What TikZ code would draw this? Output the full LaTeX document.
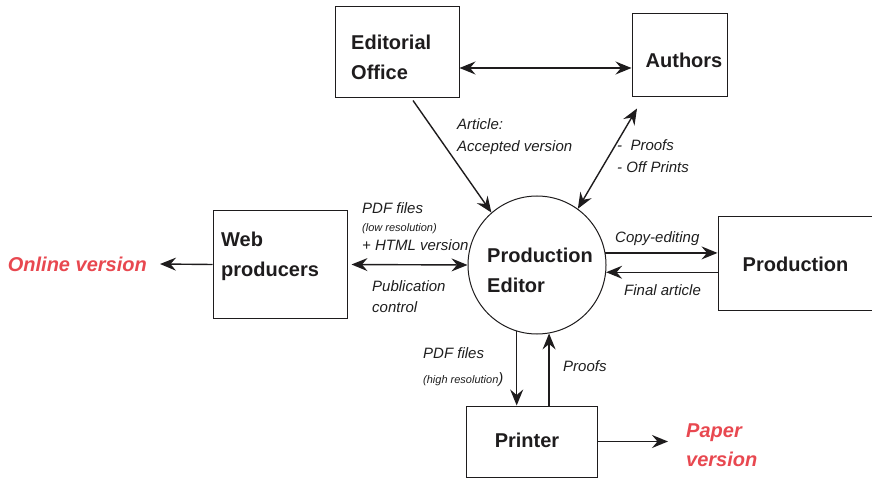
\documentclass[tikz,border=0pt]{standalone}
\usepackage{fontspec}
\setmainfont{Liberation Sans}
\usetikzlibrary{arrows.meta,calc}
\definecolor{ink}{RGB}{30,28,29}
\definecolor{lab}{RGB}{30,30,30}
\definecolor{pubred}{RGB}{232,72,80}
\begin{document}
\begin{tikzpicture}[x=1pt,y=-1pt,
  box/.style={draw=ink,line width=1pt,rectangle,inner sep=0pt},
  boxcap/.style={font=\fontsize{20}{30}\selectfont\bfseries,text=ink,align=left,inner sep=0pt},
  lbl/.style={font=\fontsize{15}{22}\selectfont\itshape,text=lab,align=left,inner sep=0pt},
  outtxt/.style={font=\fontsize{20}{29}\selectfont\bfseries\itshape,text=pubred,align=left,inner sep=0pt},
  arr/.style={draw=ink,line width=1.4pt,-{Stealth[length=16pt,width=13pt,inset=5.5pt]}},
  darr/.style={draw=ink,line width=1.4pt,{Stealth[length=16pt,width=13pt,inset=5.5pt]}-{Stealth[length=16pt,width=13pt,inset=5.5pt]}}]
\useasboundingbox (0,0) rectangle (872,478);

% boxes
\node[box,minimum width=124pt,minimum height=91pt] (eo) at (397,52.5) {};
\node[box,minimum width=95pt,minimum height=83pt] (au) at (679.5,55.5) {};
\node[box,minimum width=134pt,minimum height=107pt] (web) at (280,264.5) {};
\node[box,minimum width=157pt,minimum height=93pt] (prod) at (796.5,263.5) {};
\node[box,minimum width=131pt,minimum height=71pt] (pr) at (531.5,441.5) {};
\node[box,circle,minimum size=138pt] (pe) at (537,265) {};

% captions
\node[boxcap,anchor=west] (eot) at (351,57) {Editorial\\Office};
\node[boxcap] (aut) at (684,60) {Authors};
\node[boxcap,anchor=west] (webt) at (221,256) {Web\\producers};
\node[boxcap] (prodt) at (795.5,264) {Production};
\node[boxcap] (prt) at (527,440) {Printer};
\node[boxcap,anchor=west] (pet) at (487,270) {Production\\Editor};

% labels
\node[lbl,anchor=west] (l1) at (457,137) {Article:\\Accepted version};
\node[lbl,anchor=west] (l2) at (617,156) {-\ \ Proofs\\- Off Prints};
\node[lbl,anchor=west,font=\fontsize{15}{18.5}\selectfont\itshape] (l3) at (362,226.5) {PDF files\\{\fontsize{11}{12}\selectfont(low resolution)}\\+ HTML version};
\node[lbl,anchor=west,font=\fontsize{15}{21}\selectfont\itshape] (l4) at (372,296.5) {Publication\\control};
\node[lbl,anchor=west] (l5) at (615,239) {Copy-editing};
\node[lbl,anchor=west] (l6) at (624,290) {Final article};
\node[lbl,anchor=west,font=\fontsize{15}{25}\selectfont\itshape] (l7) at (423,367.5) {PDF files\\{\fontsize{11}{12}\selectfont(high resolution})};
\node[lbl,anchor=west] (l8) at (563,366) {Proofs};
\node[outtxt,anchor=east] (online) at (147,264) {Online version};
\node[outtxt,anchor=west] (paper) at (686,445.5) {Paper\\version};

% connectors
\draw[darr] ([yshift=-15.5pt]eo.east) -- ([yshift=-12.5pt]au.west);
\draw[arr] ([xshift=16pt,yshift=-2pt]eo.south) -- (pe.131);
\draw[darr] ([xshift=-42.5pt,yshift=-11pt]au.south) -- (pe.54);
\draw[arr] (pe.10) -- (pe.10 -| prod.west);
\draw[arr] (pe.-6 -| prod.west) -- (pe.-6);
\draw[darr] ([xshift=4pt]web.east) -- (pe.west);
\draw[arr] (web.west) -- ($(online.east)+(13,0)$);
\draw[arr] (pe.-107) -- (pe.-107 |- pr.north);
\draw[arr] (pe.-80 |- pr.north) -- (pe.-80);
\draw[arr] (pr.east) -- ($(pr.east -| paper.west)+(-18,0)$);
\end{tikzpicture}
\end{document}
